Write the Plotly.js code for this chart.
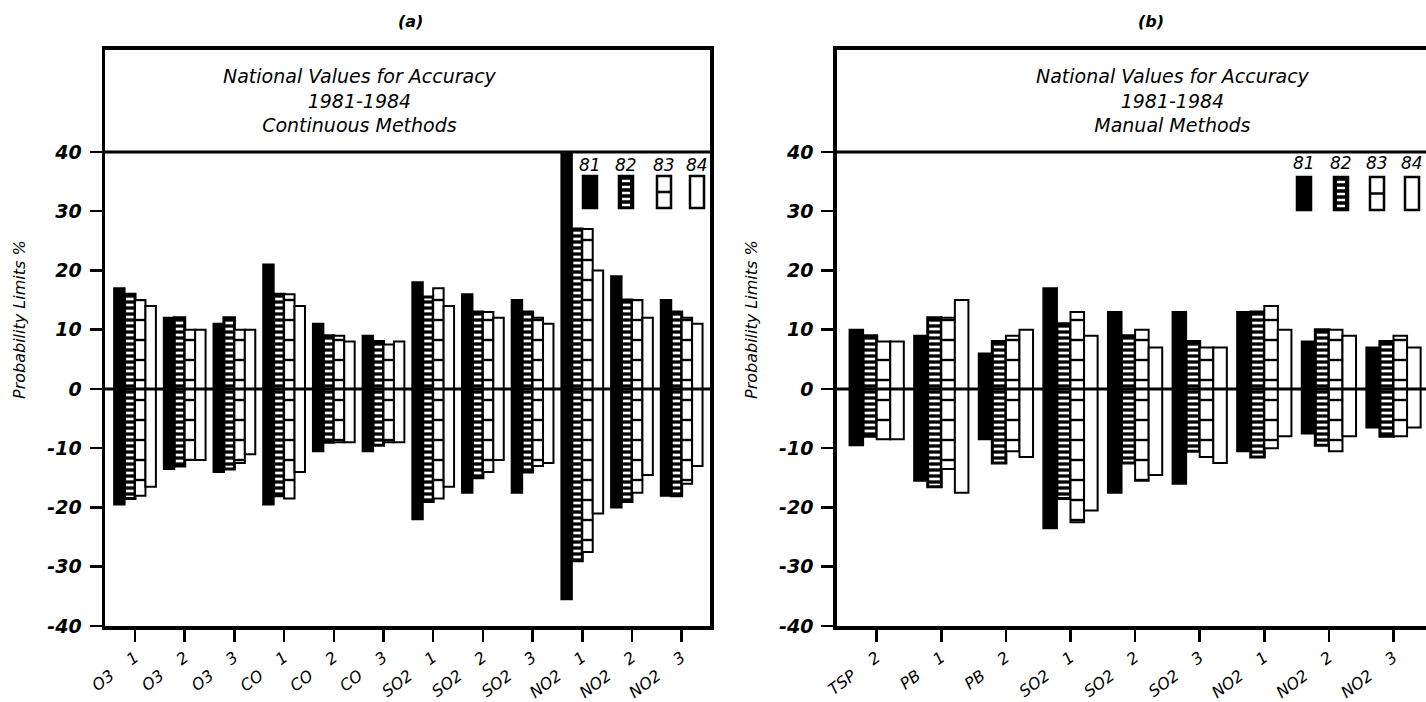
<!DOCTYPE html>
<html><head><meta charset="utf-8">
<script src="https://cdn.plot.ly/plotly-3.0.1.min.js"></script>
<style>html,body{margin:0;padding:0;background:#fff;overflow:hidden}</style>
</head><body><div id="chart" style="width:1426px;height:702px"></div>
<script>
// ---------- DATA ----------
const years = ['81', '82', '83', '84'];

// Panel (a): Continuous methods
const catsA = ['O3 1','O3 2','O3 3','CO 1','CO 2','CO 3','SO2 1','SO2 2','SO2 3','NO2 1','NO2 2','NO2 3'];
const a81Hi = [17, 12, 11, 21, 11, 9, 18, 16, 15, 40, 19, 15];
const a81Lo = [-19.5, -13.5, -14, -19.5, -10.5, -10.5, -22, -17.5, -17.5, -35.5, -20, -18];
const a82Hi = [16, 12, 12, 16, 9, 8, 15.5, 13, 13, 27, 15, 13];
const a82Lo = [-18.5, -13, -13.5, -18, -9, -9.5, -19, -15, -14, -29, -19, -18];
const a83Hi = [15, 10, 10, 16, 9, 7.5, 17, 13, 12, 27, 15, 12];
const a83Lo = [-18, -12, -12.5, -18.5, -9, -9, -18.5, -14, -13, -27.5, -17.5, -16];
const a84Hi = [14, 10, 10, 14, 8, 8, 14, 12, 11, 20, 12, 11];
const a84Lo = [-16.5, -12, -11, -14, -9, -9, -16.5, -12, -12.5, -21, -14.5, -13];

// Panel (b): Manual methods
const catsB = ['TSP 2','PB 1','PB 2','SO2 1','SO2 2','SO2 3','NO2 1','NO2 2','NO2 3'];
const b81Hi = [10, 9, 6, 17, 13, 13, 13, 8, 7];
const b81Lo = [-9.5, -15.5, -8.5, -23.5, -17.5, -16, -10.5, -7.5, -6.5];
const b82Hi = [9, 12, 8, 11, 9, 8, 13, 10, 8];
const b82Lo = [-8, -16.5, -12.5, -18.5, -12.5, -10.5, -11.5, -9.5, -8];
const b83Hi = [8, 12, 9, 13, 10, 7, 14, 10, 9];
const b83Lo = [-8.5, -13.5, -10.5, -22.5, -15.5, -11.5, -10, -10.5, -8];
const b84Hi = [8, 15, 10, 9, 7, 7, 10, 9, 7];
const b84Lo = [-8.5, -17.5, -11.5, -20.5, -14.5, -12.5, -8, -8, -6.5];

const yTicks = [-40, -30, -20, -10, 0, 10, 20, 30, 40];
const titleA = ['National Values for Accuracy', '1981-1984', 'Continuous Methods'];
const titleB = ['National Values for Accuracy', '1981-1984', 'Manual Methods'];
const yTitle = 'Probability Limits %';

// ---------- STYLE ----------
const W = 1426, H = 702, T = 50, B = 76;
const px = v => v / W;
const py = v => (H - B - v) / (H - T - B);
const FONT = 'DejaVu Sans, Verdana, sans-serif';

const markerStyle = {
  '81': {color: '#000', line: {color: '#000', width: 2}},
  '82': {color: '#000', line: {color: '#000', width: 3},
         pattern: {shape: '-', bgcolor: '#000', fgcolor: '#fff', size: 6, solidity: 0.45}},
  '83': {color: '#fff', line: {color: '#000', width: 2},
         pattern: {shape: '-', bgcolor: '#fff', fgcolor: '#000', size: 20, solidity: 0.12}},
  '84': {color: '#fff', line: {color: '#000', width: 2}}
};

const dataA = {'81': [a81Hi, a81Lo], '82': [a82Hi, a82Lo], '83': [a83Hi, a83Lo], '84': [a84Hi, a84Lo]};
const dataB = {'81': [b81Hi, b81Lo], '82': [b82Hi, b82Lo], '83': [b83Hi, b83Lo], '84': [b84Hi, b84Lo]};

const traces = [];
years.forEach(yr => {
  const [hi, lo] = dataA[yr];
  traces.push({type: 'bar', name: '19' + yr, x: catsA, base: lo, y: hi.map((h, i) => h - lo[i]),
    xaxis: 'x', yaxis: 'y', marker: markerStyle[yr], hoverinfo: 'skip'});
});
years.forEach(yr => {
  const [hi, lo] = dataB[yr];
  traces.push({type: 'bar', name: '19' + yr, x: catsB, base: lo, y: hi.map((h, i) => h - lo[i]),
    xaxis: 'x2', yaxis: 'y2', marker: markerStyle[yr], hoverinfo: 'skip'});
});

const lab = c => c.replace(' ', '\u00a0'.repeat(4));

const xCommon = {
  type: 'category', tickmode: 'array', tickangle: -37, ticks: 'outside', ticklen: 12, tickwidth: 2.5,
  tickcolor: '#000', showline: true, linewidth: 4, linecolor: '#000', showgrid: false, zeroline: false,
  tickfont: {family: FONT, size: 16, style: 'italic', color: '#000'}, fixedrange: true
};
const yCommon = {
  range: [-40, 57.2], tickmode: 'array', tickvals: yTicks, ticktext: yTicks.map(String),
  ticks: 'outside', ticklen: 12, tickwidth: 2.5, tickcolor: '#000', showline: true, linewidth: 3.5,
  linecolor: '#000', showgrid: false, zeroline: false, ticklabelstandoff: 4,
  tickfont: {family: FONT, size: 19, style: 'italic', weight: 'bold', color: '#000'}, fixedrange: true
};

const layout = {
  width: W, height: H, margin: {l: 0, r: 0, t: T, b: B},
  paper_bgcolor: '#fff', plot_bgcolor: '#fff', showlegend: false,
  barmode: 'group', bargap: 0.16, bargroupgap: 0,
  xaxis: Object.assign({}, xCommon, {domain: [px(105), px(710)], range: [-0.604, 11.57],
    tickvals: catsA, ticktext: catsA.map(lab), anchor: 'y', mirror: true}),
  yaxis: Object.assign({}, yCommon, {domain: [0, 1], anchor: 'x', mirror: true}),
  xaxis2: Object.assign({}, xCommon, {domain: [px(836.7), 1], range: [-0.619, 8.503],
    tickvals: catsB, ticktext: catsB.map(lab), anchor: 'y2', mirror: true}),
  yaxis2: Object.assign({}, yCommon, {domain: [0, 1], anchor: 'x2', mirror: false}),
  shapes: [],
  annotations: []
};

// horizontal rule at 40 and zero line
[['x', 'y'], ['x2', 'y2']].forEach(([xa, ya]) => {
  layout.shapes.push({type: 'line', xref: xa + ' domain', yref: ya, x0: 0, x1: 1, y0: 40, y1: 40,
    line: {color: '#000', width: 3}, layer: 'above'});
  layout.shapes.push({type: 'line', xref: xa + ' domain', yref: ya, x0: 0, x1: 1, y0: 0, y1: 0,
    line: {color: '#000', width: 3}, layer: 'above'});
});

// legend swatches
function swatches(centers, yTop, yBot) {
  centers.forEach((cx, i) => {
    const x0 = px(cx - 7), x1 = px(cx + 7);
    const yr = years[i];
    const fill = (yr === '81' || yr === '82') ? '#000' : '#fff';
    layout.shapes.push({type: 'rect', xref: 'paper', yref: 'paper', x0, x1, y0: py(yBot), y1: py(yTop),
      fillcolor: fill, line: {color: '#000', width: 2.5}, layer: 'above'});
    if (yr === '82') {
      for (let yy = yTop + 5; yy < yBot - 2; yy += 6) {
        layout.shapes.push({type: 'line', xref: 'paper', yref: 'paper', x0: px(cx - 4), x1: px(cx + 4),
          y0: py(yy), y1: py(yy), line: {color: '#fff', width: 2.5}, layer: 'above'});
      }
    }
    if (yr === '83') {
      const ym = (yTop + yBot) / 2;
      layout.shapes.push({type: 'line', xref: 'paper', yref: 'paper', x0, x1,
        y0: py(ym), y1: py(ym), line: {color: '#000', width: 2.5}, layer: 'above'});
    }
  });
}
swatches([590, 626, 664, 697], 176, 208);
swatches([1304, 1341, 1377, 1412], 177, 210);

function ann(text, x, y, opts) {
  layout.annotations.push(Object.assign({text, xref: 'paper', yref: 'paper', x: px(x), y: py(y),
    xanchor: 'center', yanchor: 'middle', showarrow: false,
    font: {family: FONT, size: 17, style: 'italic', color: '#000'}}, opts || {}));
}
// panel labels
ann('(a)', 410, 22, {font: {family: FONT, size: 16, style: 'italic', weight: 'bold', color: '#000'}});
ann('(b)', 1151, 22, {font: {family: FONT, size: 16, style: 'italic', weight: 'bold', color: '#000'}});
// titles
ann(titleA.join('<br>'), 360, 101, {font: {family: FONT, size: 19, style: 'italic', color: '#000'}});
ann(titleB.join('<br>'), 1173, 101, {font: {family: FONT, size: 19, style: 'italic', color: '#000'}});
// legend labels
[590, 626, 664, 697].forEach((x, i) => ann(years[i], x, 165, {font: {family: FONT, size: 17, style: 'italic', color: '#000'}}));
[1304, 1341, 1377, 1412].forEach((x, i) => ann(years[i], x, 163, {font: {family: FONT, size: 17, style: 'italic', color: '#000'}}));
// y titles
ann(yTitle, 19, 320, {textangle: -90, font: {family: FONT, size: 16, style: 'italic', color: '#000'}});
ann(yTitle, 751, 320, {textangle: -90, font: {family: FONT, size: 16, style: 'italic', color: '#000'}});

Plotly.newPlot('chart', traces, layout, {staticPlot: true, displayModeBar: false});
</script>
</body></html>
